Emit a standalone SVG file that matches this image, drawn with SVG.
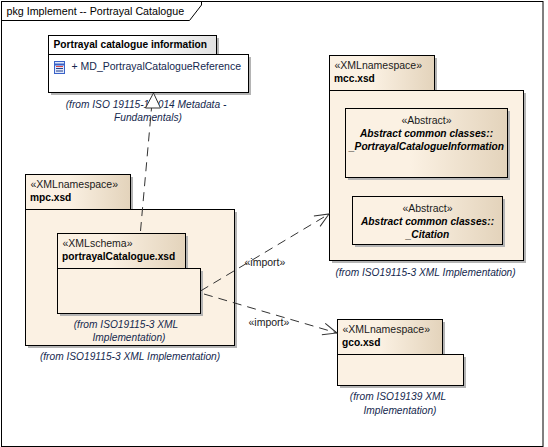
<svg xmlns="http://www.w3.org/2000/svg" width="548" height="447" viewBox="0 0 548 447">
<defs>
<linearGradient id="g" x1="0" y1="0" x2="1" y2="0"><stop offset="0" stop-color="#fbf1e3"/><stop offset="0.4" stop-color="#fbf1e3"/><stop offset="1" stop-color="#e3d3bb"/></linearGradient>
<linearGradient id="w" x1="0" y1="0" x2="1" y2="0"><stop offset="0" stop-color="#ffffff"/><stop offset="0.5" stop-color="#ffffff"/><stop offset="1" stop-color="#e2e2e2"/></linearGradient>
<marker id="open" markerWidth="16" markerHeight="14" refX="15" refY="7" orient="auto" markerUnits="userSpaceOnUse"><path d="M1 1 L15 7 L1 13" fill="none" stroke="#333" stroke-width="1"/></marker>
</defs>
<style>
text{font-family:"Liberation Sans",Arial,sans-serif;font-size:10.5px;fill:#1a1a1a}
.b{font-weight:bold;font-size:10.2px;fill:#000}
.bi{font-weight:bold;font-style:italic;font-size:10.2px;fill:#000;text-anchor:middle}
.m{text-anchor:middle}
.f{font-style:italic;font-size:10.2px;fill:#14284e;text-anchor:middle}
.s{fill:#b4b4b4;stroke:none}
.t{fill:url(#g);stroke:#000;stroke-width:1}
.p{fill:#fbf1e3;stroke:#000;stroke-width:1}
.c{fill:none;stroke:#333;stroke-width:1;stroke-dasharray:9 6}
</style>
<rect width="548" height="447" fill="#fff"/>
<g id="frame">
<rect x="1.5" y="1.5" width="541.500" height="445" fill="none" stroke="#000"/>
<path d="M1.5 20.5H189.5L201.5 5V1.5" fill="none" stroke="#000"/>
<text x="6.500" y="14.500" style="font-size:10.7px;fill:#000">pkg Implement -- Portrayal Catalogue</text>
</g>
<g id="portrayal-info">
<rect class="s" x="51" y="38" width="168" height="19"/><rect class="s" x="51" y="57" width="200" height="38"/>
<rect x="48.500" y="35.500" width="168" height="19" fill="url(#w)" stroke="#000"/>
<rect x="48.500" y="54.500" width="200" height="38" fill="#fff" stroke="#000"/>
<text class="b" x="53.500" y="48">Portrayal catalogue information</text>
<rect x="54.500" y="61.500" width="10" height="12" fill="#dfe8fb" stroke="#3a62c8"/>
<path d="M55 64.500H64" stroke="#3a62c8" stroke-width="2"/><path d="M56 66.500H63" stroke="#d44" stroke-width="1"/><path d="M56 68.500H63M56 71H63" stroke="#27408b" stroke-width="1"/>
<text x="71.500" y="69.500" style="fill:#14284e">+ MD_PortrayalCatalogueReference</text>
<text class="f" x="146" y="107.500">(from ISO 19115-1:2014 Metadata -</text>
<text class="f" x="148" y="120.500">Fundamentals)</text>
</g>
<g id="mpc">
<rect class="s" x="28" y="177" width="105" height="35"/><rect class="s" x="28" y="212" width="209" height="136"/>
<rect class="t" x="25.500" y="174.500" width="105" height="35"/>
<rect class="p" x="25.500" y="209.500" width="209" height="136"/>
<text x="30.500" y="188">«XMLnamespace»</text>
<text class="b" x="30" y="201">mpc.xsd</text>
<text class="f" x="126" y="328">(from ISO19115-3 XML</text>
<text class="f" x="129" y="341">Implementation)</text>
<text class="f" x="130" y="360">(from ISO19115-3 XML Implementation)</text>
</g>
<g id="portrayalCatalogue">
<rect class="s" x="60" y="236" width="128" height="35"/><rect class="s" x="60" y="271" width="143" height="45"/>
<rect class="t" x="57.500" y="233.500" width="128" height="35"/>
<rect class="p" x="57.500" y="268.500" width="143" height="45"/>
<text x="62.500" y="247">«XMLschema»</text>
<text class="b" x="62" y="260">portrayalCatalogue.xsd</text>
</g>
<g id="mcc">
<rect class="s" x="332" y="58" width="105" height="35"/><rect class="s" x="332" y="93" width="194" height="170"/>
<rect class="t" x="329.500" y="55.500" width="105" height="35"/>
<rect class="p" x="329.500" y="90.500" width="194" height="170"/>
<text x="334.500" y="69">«XMLnamespace»</text>
<text class="b" x="334" y="82">mcc.xsd</text>
<text class="f" x="425.500" y="276">(from ISO19115-3 XML Implementation)</text>
</g>
<g id="portrayal-catalogue-information">
<rect class="s" x="348" y="111" width="162" height="69"/>
<rect class="t" x="345.500" y="108.500" width="162" height="69"/>
<text class="m" x="426.500" y="124">«Abstract»</text>
<text class="bi" x="426.500" y="136.500">Abstract common classes::</text>
<text class="bi" x="426.500" y="149.500">_PortrayalCatalogueInformation</text>
</g>
<g id="citation">
<rect class="s" x="355" y="199" width="150" height="48"/>
<rect class="t" x="352.500" y="196.500" width="150" height="48"/>
<text class="m" x="427.500" y="212">«Abstract»</text>
<text class="bi" x="427.500" y="225">Abstract common classes::</text>
<text class="bi" x="427.500" y="238">_Citation</text>
</g>
<g id="gco">
<rect class="s" x="340" y="322" width="105" height="35"/><rect class="s" x="340" y="357" width="126" height="31"/>
<rect class="t" x="337.500" y="319.500" width="105" height="35"/>
<rect class="p" x="337.500" y="354.500" width="126" height="31"/>
<text x="342.500" y="333">«XMLnamespace»</text>
<text class="b" x="342" y="346">gco.xsd</text>
<text class="f" x="398" y="400">(from ISO19139 XML</text>
<text class="f" x="400" y="414">Implementation)</text>
</g>
<g id="connectors">
<path class="c" d="M140.500 231L151.500 108"/>
<path d="M153.500 93L145.500 108H160.500Z" fill="#fff" stroke="#333"/>
<path class="c" d="M200.500 291L329 214" marker-end="url(#open)"/>
<path class="c" d="M204 294L337 333" marker-end="url(#open)"/>
<text x="244.500" y="266">«import»</text>
<text x="248.500" y="326">«import»</text>
</g>
</svg>
